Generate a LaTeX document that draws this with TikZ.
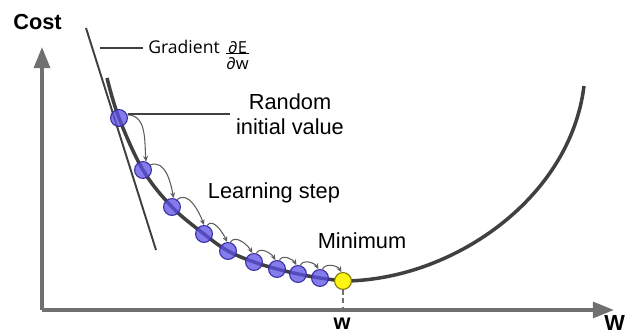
\documentclass[tikz,border=0pt]{standalone}
\usepackage{fontspec}
\setmainfont{Liberation Sans}
\newfontfamily\gradfont{Open Sans}
\usetikzlibrary{arrows.meta}
\definecolor{axisgray}{RGB}{112,112,112}
\definecolor{curvegray}{RGB}{64,64,64}
\definecolor{stepblue}{RGB}{92,80,232}
\definecolor{stepedge}{RGB}{55,45,160}
\definecolor{minyellow}{RGB}{255,245,20}
\definecolor{minedge}{RGB}{125,115,0}

\begin{document}
\begin{tikzpicture}[x=0.02cm, y=-0.02cm,
    every node/.style={font=\fontsize{12.4}{14.2}\selectfont},
    axis/.style={axisgray, line width=2pt, -{Triangle[length=12pt, width=9pt]}},
    cost curve/.style={curvegray, line width=2pt},
    pointer/.style={curvegray, line width=0.8pt},
    hop/.style={curvegray!85, line width=0.6pt, -{Stealth[length=3.2pt, width=2.8pt]}},
    step point/.style={circle, fill=stepblue, fill opacity=0.75, draw=stepedge,
      line width=0.6pt, minimum size=9.6pt, inner sep=0pt},
    min point/.style={circle, fill=minyellow, draw=minedge,
      line width=0.6pt, minimum size=9.6pt, inner sep=0pt},
    axis label/.style={font=\fontsize{12.4}{14.2}\selectfont\bfseries},
  ]

  % frame: same size as the 627x333 reference (y runs downwards)
  \fill[white] (0,0) rectangle (627,333);
  \useasboundingbox (0,0) rectangle (627,333);

  % --- Axes ---
  \coordinate (origin) at (42,310);
  \coordinate (ytip) at (42,47);
  \coordinate (xtip) at (614,310);
  \draw[axis] (origin) -- (ytip);
  \draw[axis] (origin) -- (xtip);

  % --- Points of the descent, on the curve ---
  \foreach \i/\x/\y in {1/119/118, 2/143/170, 3/172/207, 4/204/234, 5/228/251,
                        6/254/262, 7/277/269, 8/298/274, 9/320/278}
    \coordinate (p\i) at (\x,\y);
  \coordinate (pm) at (343,281);

  % --- Cost curve ---
  \draw[cost curve] plot[smooth, tension=0.6] coordinates {
    (107,78) (p1) (p2) (p3) (p4) (p5) (p6) (p7) (p8) (p9) (pm)}
    .. controls (450,281) and (570,200) .. (584,86);

  % --- Gradient (tangent at the initial value) ---
  \coordinate (tanA) at (86,28);
  \coordinate (tanB) at (156,250);
  \draw[curvegray, line width=1.1pt] (tanA) -- (tanB);

  % --- Step circles ---
  \foreach \i in {1,...,9}
    \node[step point] (s\i) at (p\i) {};
  \node[min point] (m) at (pm) {};

  % --- Learning steps (hops) ---
  \foreach \a/\b/\sa/\ea/\o/\n in {s1/s2/20/70/0/95, s2/s3/35/80/20/100,
      s3/s4/55/90/40/110, s4/s5/70/95/55/115, s5/s6/75/100/60/120,
      s6/s7/75/100/65/120, s7/s8/75/100/65/120, s8/s9/75/100/65/120,
      s9/m/75/100/65/120}
    \draw[hop] (\a.\sa) to[out=\o, in=\n] (\b.\ea);

  % tick under the minimum
  \draw[axisgray, line width=1pt, dash pattern=on 2.6pt off 2.2pt]
    (m.south) -- (m |- origin);

  % --- Labels ---
  \node[axis label] (cost) at (37.5,22.5) {Cost};
  \node[axis label, anchor=base] (wmin) at (342,330) {w};
  \node[axis label, anchor=base east, inner sep=1pt] (wax) at (627,331) {W};

  \node[anchor=base west, inner sep=0pt, font=\gradfont\fontsize{10}{12}\selectfont]
    (grad) at (148,54) {Gradient};
  \node[anchor=west, inner sep=0pt, font=\gradfont\fontsize{9.4}{9.6}\selectfont]
    (gradfrac) at (226,58)
    {\begin{tabular}{@{}c@{}}∂E\\[-3pt]\hline\rule{0pt}{8.6pt}∂w\end{tabular}};
  \coordinate (gradend) at (100,48);
  \draw[pointer] (gradend) -- ([xshift=-3pt]grad.west |- gradend);

  \node[align=center] (rand) at (290,114) {Random\\initial value};
  \draw[pointer] (s1.east |- rand.west) -- (rand.west);

  \node (learn) at (274,193) {Learning step};
  \node (minlbl) at (362,241) {Minimum};

\end{tikzpicture}
\end{document}
